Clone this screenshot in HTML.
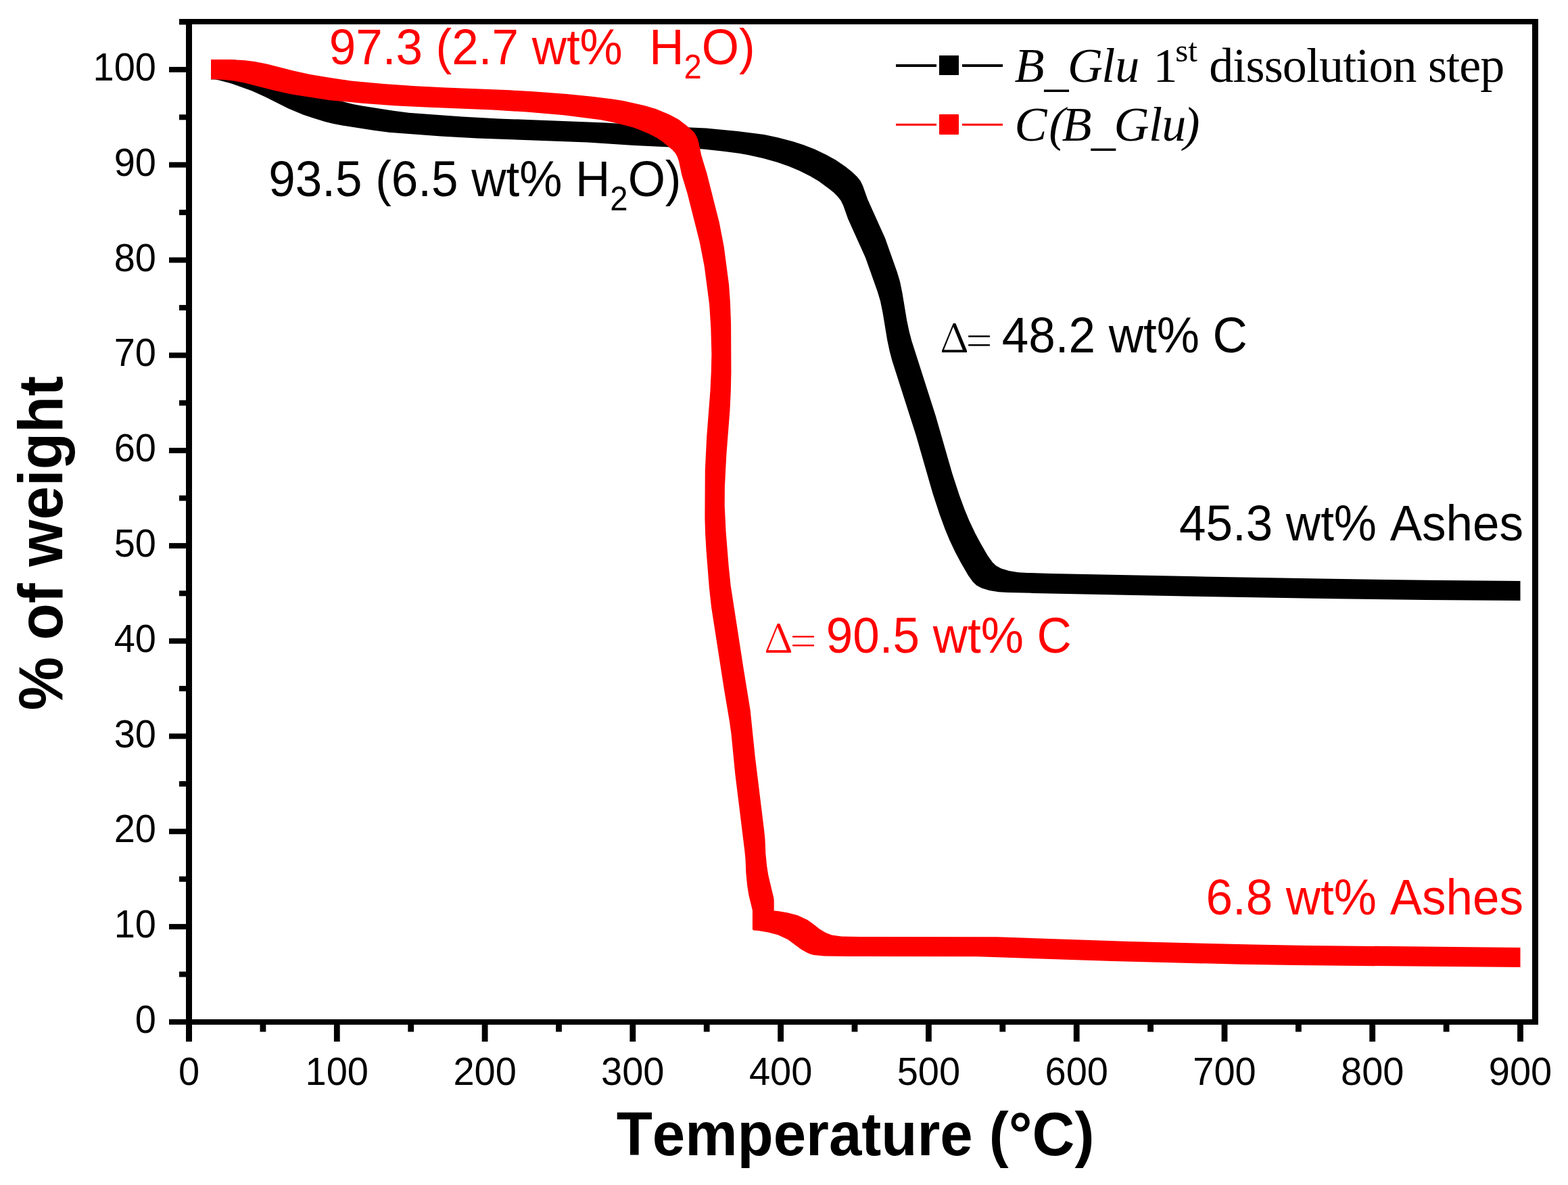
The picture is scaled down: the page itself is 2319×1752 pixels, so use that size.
<!DOCTYPE html>
<html><head><meta charset="utf-8"><style>
html,body{margin:0;padding:0;background:#fff;}
svg{display:block;}
text{font-kerning:none;}
</style></head><body>
<svg width="2319" height="1752" viewBox="0 0 2319 1752">
<rect width="2319" height="1752" fill="#fff"/>
<g fill="#000"><rect x="265" y="28" width="2010" height="8"/><rect x="275" y="28" width="9" height="1512"/><rect x="275" y="1507" width="2000" height="8"/><rect x="2266" y="28" width="9" height="1487"/><rect x="250" y="1506.9" width="26" height="8"/><rect x="250" y="1366.1" width="26" height="8"/><rect x="250" y="1225.3" width="26" height="8"/><rect x="250" y="1084.5" width="26" height="8"/><rect x="250" y="943.7" width="26" height="8"/><rect x="250" y="802.9" width="26" height="8"/><rect x="250" y="662.1" width="26" height="8"/><rect x="250" y="521.3" width="26" height="8"/><rect x="250" y="380.5" width="26" height="8"/><rect x="250" y="239.7" width="26" height="8"/><rect x="250" y="98.9" width="26" height="8"/><rect x="265" y="1436.5" width="11" height="8"/><rect x="265" y="1295.7" width="11" height="8"/><rect x="265" y="1154.9" width="11" height="8"/><rect x="265" y="1014.1" width="11" height="8"/><rect x="265" y="873.3" width="11" height="8"/><rect x="265" y="732.5" width="11" height="8"/><rect x="265" y="591.7" width="11" height="8"/><rect x="265" y="450.9" width="11" height="8"/><rect x="265" y="310.1" width="11" height="8"/><rect x="265" y="169.3" width="11" height="8"/><rect x="265" y="28.5" width="11" height="8"/><rect x="275.1" y="1510" width="8.8" height="30"/><rect x="493.9" y="1510" width="8.8" height="30"/><rect x="712.7" y="1510" width="8.8" height="30"/><rect x="931.4" y="1510" width="8.8" height="30"/><rect x="1150.2" y="1510" width="8.8" height="30"/><rect x="1369.0" y="1510" width="8.8" height="30"/><rect x="1587.8" y="1510" width="8.8" height="30"/><rect x="1806.6" y="1510" width="8.8" height="30"/><rect x="2025.3" y="1510" width="8.8" height="30"/><rect x="2244.1" y="1510" width="8.8" height="30"/><rect x="384.5" y="1510" width="8.8" height="15.5"/><rect x="603.3" y="1510" width="8.8" height="15.5"/><rect x="822.1" y="1510" width="8.8" height="15.5"/><rect x="1040.8" y="1510" width="8.8" height="15.5"/><rect x="1259.6" y="1510" width="8.8" height="15.5"/><rect x="1478.4" y="1510" width="8.8" height="15.5"/><rect x="1697.2" y="1510" width="8.8" height="15.5"/><rect x="1916.0" y="1510" width="8.8" height="15.5"/><rect x="2134.7" y="1510" width="8.8" height="15.5"/></g>
<path d="M323.4,118.4 342.2,123.4 372.3,134.2 392.2,143.3 426.6,160.5 448.7,169.7 464.7,175.1 480.8,179.9 493.1,183.1 506.4,185.6 552.8,192.8 575.5,195.8 652.4,201.5 706.6,204.4 869.1,210.5 937.4,214.9 1017.0,218.7 1040.2,220.6 1067.9,223.6 1093.3,226.7 1107.1,229.2 1128.5,234.0 1149.8,240.0 1166.9,246.0 1181.8,252.2 1198.3,260.6 1211.0,268.1 1224.6,277.9 1232.9,284.6 1238.8,290.4 1243.7,296.7 1247.3,304.2 1254.2,323.8 1280.1,381.2 1297.9,431.5 1302.0,445.3 1305.4,461.8 1312.2,502.8 1315.7,519.2 1319.4,533.2 1354.7,643.4 1379.4,729.2 1389.7,760.7 1397.4,781.7 1404.3,798.4 1413.2,817.2 1421.1,832.1 1431.8,850.4 1438.8,860.2 1444.3,865.4 1451.8,869.4 1463.3,873.1 1477.2,875.2 1490.5,875.9 1527.2,876.9 1753.2,881.5 1974.5,885.3 2108.6,887.0 2248.5,887.9 2248.5,858.9 2110.8,857.8 1952.5,855.5 1758.5,852.1 1554.3,847.9 1519.5,846.9 1506.2,846.2 1492.3,844.1 1480.8,840.4 1473.3,836.4 1467.8,831.2 1460.8,821.4 1450.1,803.1 1442.2,788.2 1433.3,769.4 1426.4,752.7 1418.7,731.7 1408.4,700.2 1383.7,614.4 1348.4,504.2 1344.7,490.2 1341.2,473.8 1334.4,432.8 1331.0,416.3 1326.9,402.5 1309.1,352.2 1283.2,294.8 1276.3,275.2 1272.7,267.7 1267.8,261.4 1260.3,254.2 1250.2,246.3 1236.4,236.8 1221.8,228.7 1205.2,220.8 1188.4,214.2 1173.0,209.2 1151.1,203.4 1130.3,199.0 1090.9,193.9 1044.1,189.5 966.4,185.9 896.3,181.4 737.7,175.4 683.4,172.6 604.5,166.8 581.8,163.8 535.4,156.6 524.5,154.6 513.9,152.0 495.7,146.8 479.7,141.4 455.6,131.5 421.2,114.3 399.3,104.4 369.2,93.8 356.7,90.4 347.1,88.5 312.0,88.5 312.0,117.5 318.1,117.5Z" fill="#000"/>
<path d="M331.3,118.1 345.5,119.6 361.5,122.5 405.5,133.7 431.5,139.4 487.6,148.2 536.4,152.7 583.6,156.2 630.3,158.6 729.1,162.5 778.4,165.6 833.9,170.3 888.7,177.2 907.0,181.0 934.9,188.0 942.9,190.8 960.8,198.3 970.9,203.4 978.7,208.5 994.9,222.1 999.0,226.7 1002.0,232.5 1004.1,238.7 1008.3,258.8 1016.5,285.8 1034.8,357.9 1041.7,393.8 1049.1,449.9 1051.3,484.1 1052.4,523.3 1051.8,549.8 1050.4,578.4 1045.2,645.7 1042.8,694.7 1042.4,766.5 1043.1,788.9 1044.5,813.4 1048.8,868.2 1052.2,898.8 1071.2,1021.0 1079.0,1067.2 1081.5,1085.3 1087.4,1145.5 1101.3,1257.9 1102.5,1270.5 1103.3,1290.5 1105.1,1309.0 1107.3,1322.9 1112.9,1345.9 1112.9,1373.2 1113.3,1374.5 1114.8,1375.4 1121.7,1375.9 1136.2,1378.5 1150.6,1382.3 1165.1,1389.0 1185.0,1403.7 1194.0,1408.8 1198.8,1410.7 1203.7,1411.9 1219.0,1413.6 1254.7,1414.1 1445.5,1414.2 1644.4,1421.0 1834.6,1425.8 1915.2,1427.1 2248.5,1430.0 2248.5,1401.0 1934.0,1397.9 1853.7,1396.6 1671.3,1392.0 1474.5,1385.2 1278.6,1385.1 1244.7,1384.4 1230.3,1382.4 1221.2,1378.9 1212.1,1373.5 1201.3,1365.0 1194.1,1360.0 1179.6,1353.3 1165.2,1349.5 1150.7,1346.9 1144.7,1346.5 1144.7,1331.5 1144.3,1327.4 1136.3,1293.9 1134.1,1280.0 1132.3,1261.5 1131.5,1241.5 1130.3,1228.9 1116.7,1118.5 1109.7,1050.3 1099.9,990.0 1080.7,865.9 1077.7,837.2 1073.6,786.4 1071.7,747.7 1071.9,719.6 1074.3,672.7 1079.4,607.4 1080.8,578.8 1081.4,550.2 1081.1,478.5 1079.9,446.6 1078.1,420.9 1070.7,364.8 1063.8,328.9 1045.5,256.8 1037.3,229.8 1033.1,209.7 1031.0,203.5 1028.0,197.7 1025.4,194.5 1016.4,186.5 1003.8,176.8 989.8,169.3 969.9,161.0 953.9,156.3 921.8,148.9 905.9,146.5 875.6,142.7 838.3,139.0 788.5,135.3 754.1,133.3 659.3,129.6 614.6,127.3 567.4,123.9 518.7,119.4 482.5,114.1 458.5,110.0 432.5,104.2 394.5,94.4 376.5,90.9 362.3,89.3 341.0,88.0 312.0,88.0 312.0,117.0Z" fill="#f00"/>
<rect x="1325" y="95" width="60" height="4" fill="#000"/>
<rect x="1423" y="95" width="60" height="4" fill="#000"/>
<rect x="1389" y="82" width="29" height="29" fill="#000"/>
<rect x="1325" y="182.8" width="60" height="3" fill="#f00"/>
<rect x="1423" y="182.8" width="60" height="3" fill="#f00"/>
<rect x="1389" y="169" width="29" height="30" rx="1" fill="#f00"/>
<text transform="translate(231.0,1526.9) scale(1,1.04)" font-family='"Liberation Sans",Arial,sans-serif' font-size="56" fill="#000" text-anchor="end" xml:space="preserve">0</text>
<text transform="translate(231.0,1386.1) scale(1,1.04)" font-family='"Liberation Sans",Arial,sans-serif' font-size="56" fill="#000" text-anchor="end" xml:space="preserve">10</text>
<text transform="translate(231.0,1245.3) scale(1,1.04)" font-family='"Liberation Sans",Arial,sans-serif' font-size="56" fill="#000" text-anchor="end" xml:space="preserve">20</text>
<text transform="translate(231.0,1104.5) scale(1,1.04)" font-family='"Liberation Sans",Arial,sans-serif' font-size="56" fill="#000" text-anchor="end" xml:space="preserve">30</text>
<text transform="translate(231.0,963.7) scale(1,1.04)" font-family='"Liberation Sans",Arial,sans-serif' font-size="56" fill="#000" text-anchor="end" xml:space="preserve">40</text>
<text transform="translate(231.0,822.9) scale(1,1.04)" font-family='"Liberation Sans",Arial,sans-serif' font-size="56" fill="#000" text-anchor="end" xml:space="preserve">50</text>
<text transform="translate(231.0,682.1) scale(1,1.04)" font-family='"Liberation Sans",Arial,sans-serif' font-size="56" fill="#000" text-anchor="end" xml:space="preserve">60</text>
<text transform="translate(231.0,541.3) scale(1,1.04)" font-family='"Liberation Sans",Arial,sans-serif' font-size="56" fill="#000" text-anchor="end" xml:space="preserve">70</text>
<text transform="translate(231.0,400.5) scale(1,1.04)" font-family='"Liberation Sans",Arial,sans-serif' font-size="56" fill="#000" text-anchor="end" xml:space="preserve">80</text>
<text transform="translate(231.0,259.7) scale(1,1.04)" font-family='"Liberation Sans",Arial,sans-serif' font-size="56" fill="#000" text-anchor="end" xml:space="preserve">90</text>
<text transform="translate(231.0,118.9) scale(1,1.04)" font-family='"Liberation Sans",Arial,sans-serif' font-size="56" fill="#000" text-anchor="end" xml:space="preserve">100</text>
<text transform="translate(279.5,1604.0) scale(1,1.04)" font-family='"Liberation Sans",Arial,sans-serif' font-size="56" fill="#000" text-anchor="middle" xml:space="preserve">0</text>
<text transform="translate(498.3,1604.0) scale(1,1.04)" font-family='"Liberation Sans",Arial,sans-serif' font-size="56" fill="#000" text-anchor="middle" xml:space="preserve">100</text>
<text transform="translate(717.1,1604.0) scale(1,1.04)" font-family='"Liberation Sans",Arial,sans-serif' font-size="56" fill="#000" text-anchor="middle" xml:space="preserve">200</text>
<text transform="translate(935.8,1604.0) scale(1,1.04)" font-family='"Liberation Sans",Arial,sans-serif' font-size="56" fill="#000" text-anchor="middle" xml:space="preserve">300</text>
<text transform="translate(1154.6,1604.0) scale(1,1.04)" font-family='"Liberation Sans",Arial,sans-serif' font-size="56" fill="#000" text-anchor="middle" xml:space="preserve">400</text>
<text transform="translate(1373.4,1604.0) scale(1,1.04)" font-family='"Liberation Sans",Arial,sans-serif' font-size="56" fill="#000" text-anchor="middle" xml:space="preserve">500</text>
<text transform="translate(1592.2,1604.0) scale(1,1.04)" font-family='"Liberation Sans",Arial,sans-serif' font-size="56" fill="#000" text-anchor="middle" xml:space="preserve">600</text>
<text transform="translate(1811.0,1604.0) scale(1,1.04)" font-family='"Liberation Sans",Arial,sans-serif' font-size="56" fill="#000" text-anchor="middle" xml:space="preserve">700</text>
<text transform="translate(2029.7,1604.0) scale(1,1.04)" font-family='"Liberation Sans",Arial,sans-serif' font-size="56" fill="#000" text-anchor="middle" xml:space="preserve">800</text>
<text transform="translate(2248.5,1604.0) scale(1,1.04)" font-family='"Liberation Sans",Arial,sans-serif' font-size="56" fill="#000" text-anchor="middle" xml:space="preserve">900</text>
<text transform="translate(486.7,95.1) scale(1,1.04)" font-family='"Liberation Sans",Arial,sans-serif' font-size="71" fill="#f00" xml:space="preserve">97.3 (2.7 wt%  H<tspan font-size="47.3" dy="20.2">2</tspan><tspan dy="-20.2">O)</tspan></text>
<text transform="translate(397.3,289.9) scale(1,1.04)" font-family='"Liberation Sans",Arial,sans-serif' font-size="71" fill="#000" xml:space="preserve">93.5 (6.5 wt% H<tspan font-size="47.3" dy="20.2">2</tspan><tspan dy="-20.2">O)</tspan></text>
<text transform="translate(1481.8,521.2) scale(1,1.04)" font-family='"Liberation Sans",Arial,sans-serif' font-size="71" fill="#000" xml:space="preserve">48.2 wt% C</text>
<text transform="translate(1221.8,965.1) scale(1,1.04)" font-family='"Liberation Sans",Arial,sans-serif' font-size="71" fill="#f00" xml:space="preserve">90.5 wt% C</text>
<text transform="translate(2253.0,798.6) scale(1,1.04)" font-family='"Liberation Sans",Arial,sans-serif' font-size="71" fill="#000" text-anchor="end" xml:space="preserve">45.3 wt% Ashes</text>
<text transform="translate(2253.0,1352.2) scale(1,1.04)" font-family='"Liberation Sans",Arial,sans-serif' font-size="71" fill="#f00" text-anchor="end" xml:space="preserve">6.8 wt% Ashes</text>
<text transform="translate(1389.9,520.9) scale(1.075,1)" font-family="'Noto Serif CJK SC','Liberation Serif',serif" font-size="58.6" fill="#000">&#916;<tspan dx="-3.35" dy="4.5">=</tspan></text>
<text transform="translate(1129.9,964.8) scale(1.075,1)" font-family="'Noto Serif CJK SC','Liberation Serif',serif" font-size="58.6" fill="#f00">&#916;<tspan dx="-3.35" dy="4.5">=</tspan></text>
<text transform="translate(0.0,121.2) scale(1,1.01)" font-family='"Liberation Serif","Times New Roman",serif' font-size="72" fill="#000" xml:space="preserve"><tspan x="1500.4 1544.6 1578.9 1629.3 1649.2" font-style="italic">B<tspan dy="6">_</tspan><tspan dy="-6">Glu</tspan></tspan></text>
<text transform="translate(1705.5,121.2) scale(1,1.01)" font-family='"Liberation Serif","Times New Roman",serif' font-size="72" fill="#000" xml:space="preserve">1</text>
<text transform="translate(1738.2,90.5) scale(1,1.01)" font-family='"Liberation Serif","Times New Roman",serif' font-size="49" fill="#000" xml:space="preserve">st</text>
<text transform="translate(1788.2,121.2) scale(1,1.01)" font-family='"Liberation Serif","Times New Roman",serif' font-size="72" fill="#000" textLength="437.1" lengthAdjust="spacing" xml:space="preserve">dissolution step</text>
<text transform="translate(0.0,208.0) scale(1,1.01)" font-family='"Liberation Serif","Times New Roman",serif' font-size="72" fill="#000" xml:space="preserve"><tspan x="1500.6 1551.2 1570.4 1613.8 1647.4 1699.1 1718.3 1750.4" font-style="italic">C(B<tspan dy="6">_</tspan><tspan dy="-6">Glu)</tspan></tspan></text>
<text transform="translate(911.7,1707.7) scale(1,1.04)" font-family='"Liberation Sans",Arial,sans-serif' font-size="87" fill="#000" font-weight="bold" xml:space="preserve">Temperature (&#176;C)</text>
<g transform="translate(92,1050.3) rotate(-90)"><text transform="translate(0.0,0.0) scale(1,1.04)" font-family='"Liberation Sans",Arial,sans-serif' font-size="89" fill="#000" font-weight="bold" xml:space="preserve">% of weight</text></g>
</svg>
</body></html>
